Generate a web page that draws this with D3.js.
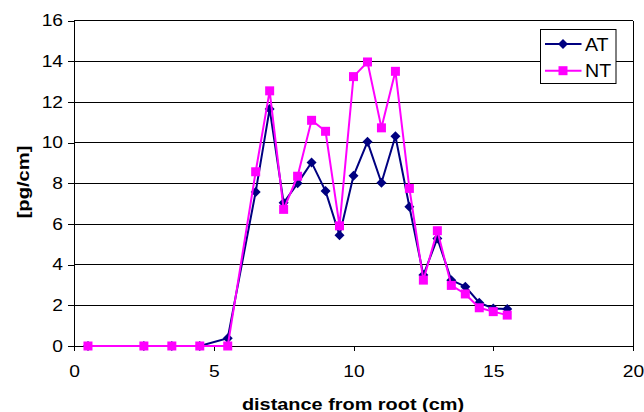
<!DOCTYPE html>
<html><head><meta charset="utf-8">
<script src="https://cdn.jsdelivr.net/npm/d3@7"></script>
<style>body{margin:0;background:#fff;} svg{display:block;}</style>
</head><body>
<script>
const xs = [0.5, 2.5, 3.5, 4.5, 5.5, 6.5, 7, 7.5, 8, 8.5, 9, 9.5, 10, 10.5, 11, 11.5, 12, 12.5, 13, 13.5, 14, 14.5, 15, 15.5];
const atValues = [0, 0, 0, 0, 0.38, 7.58, 11.66, 7.04, 8.0, 9.03, 7.62, 5.45, 8.37, 10.04, 8.03, 10.32, 6.85, 3.49, 5.29, 3.24, 2.92, 2.13, 1.85, 1.82];
const ntValues = [0, 0, 0, 0, 0, 8.57, 12.55, 6.72, 8.35, 11.1, 10.56, 5.91, 13.25, 13.97, 10.73, 13.51, 7.75, 3.24, 5.67, 2.98, 2.56, 1.88, 1.69, 1.52];
const seriesNames = ["AT", "NT"];
const xTicks = [0, 5, 10, 15, 20];
const yTicks = [0, 2, 4, 6, 8, 10, 12, 14, 16];

const W = 644, H = 412;
const svg = d3.select("body").append("svg").attr("width", W).attr("height", H);
const pLeft = 74, pRight = 633, pTop = 20.7, pBottom = 346;
const x = d3.scaleLinear().domain([0, 20]).range([pLeft, pRight]);
const y = d3.scaleLinear().domain([0, 16]).range([pBottom, pTop]);
const font = "'Liberation Sans', Arial, sans-serif";

function stretch(sel, k) {
  sel.each(function () {
    const len = this.getComputedTextLength();
    d3.select(this).attr("textLength", len * k).attr("lengthAdjust", "spacingAndGlyphs");
  });
}

// gridlines
svg.append("g").selectAll("line").data(yTicks.filter(d => d > 0)).join("line")
  .attr("x1", pLeft).attr("x2", pRight)
  .attr("y1", d => y(d)).attr("y2", d => y(d))
  .attr("stroke", "#000").attr("stroke-width", 1).attr("shape-rendering", "crispEdges");
// right border
svg.append("line").attr("x1", pRight).attr("x2", pRight).attr("y1", pTop).attr("y2", pBottom)
  .attr("stroke", "#000").attr("shape-rendering", "crispEdges");

// axes
const xAxis = d3.axisBottom(x).tickValues(xTicks).tickSize(5).tickSizeOuter(0).tickPadding(15);
const gx = svg.append("g").attr("transform", `translate(0,${pBottom})`).call(xAxis);
const yAxis = d3.axisLeft(y).tickValues(yTicks).tickSize(6).tickSizeOuter(0).tickPadding(5);
const gy = svg.append("g").attr("transform", `translate(${pLeft},0)`).call(yAxis);
[gx, gy].forEach(g => {
  g.selectAll("path,line").attr("stroke", "#000").attr("shape-rendering", "crispEdges");
  g.selectAll("text").attr("font-family", font).attr("font-size", 16).attr("fill", "#000");
  stretch(g.selectAll("text"), 1.2);
});

// titles
const xt = svg.append("text").attr("x", 353).attr("y", 409.5)
  .attr("text-anchor", "middle").attr("font-family", font).attr("font-size", 17)
  .attr("font-weight", "bold").text("distance from root (cm)");
stretch(xt, 1.17);
const yt = svg.append("text").attr("transform", `translate(28.5,182) rotate(-90)`)
  .attr("text-anchor", "middle").attr("font-family", font).attr("font-size", 16.5)
  .attr("font-weight", "bold").text("[pg/cm]");
stretch(yt, 1.22);

const colors = ["#000080", "#FF00FF"];
const dataSets = [atValues, ntValues];
const line = d3.line().x(d => x(d[0])).y(d => y(d[1]));
const squareDiamond = {
  draw(ctx, size) {
    const r = Math.sqrt(size / 2);
    ctx.moveTo(0, -r); ctx.lineTo(r, 0); ctx.lineTo(0, r); ctx.lineTo(-r, 0); ctx.closePath();
  }
};
const diamond = d3.symbol().type(squareDiamond).size(50);
const square = d3.symbol().type(d3.symbolSquare).size(81);

dataSets.forEach((vals, i) => {
  const pts = xs.map((xv, j) => [xv, vals[j]]);
  const g = svg.append("g");
  g.append("path").attr("d", line(pts)).attr("fill", "none")
    .attr("stroke", colors[i]).attr("stroke-width", 2);
  g.selectAll("path.m").data(pts).join("path").attr("class", "m")
    .attr("transform", d => `translate(${x(d[0])},${y(d[1])})`)
    .attr("d", i === 0 ? diamond() : square())
    .attr("fill", colors[i]);
});

// legend
const lg = svg.append("g");
lg.append("rect").attr("x", 540.5).attr("y", 29.5).attr("width", 75.5).attr("height", 54)
  .attr("fill", "#fff").attr("stroke", "#000");
seriesNames.forEach((n, i) => {
  const ly = 44 + i * 26.7;
  lg.append("line").attr("x1", 545).attr("x2", 581.5).attr("y1", ly).attr("y2", ly)
    .attr("stroke", colors[i]).attr("stroke-width", 2);
  lg.append("path").attr("transform", `translate(563,${ly})`)
    .attr("d", i === 0 ? diamond() : square()).attr("fill", colors[i]);
  const t = lg.append("text").attr("x", 585).attr("y", ly + 6.5).attr("font-family", font)
    .attr("font-size", 18.5).text(n);
  stretch(t, 1.06);
});
</script>
</body></html>
